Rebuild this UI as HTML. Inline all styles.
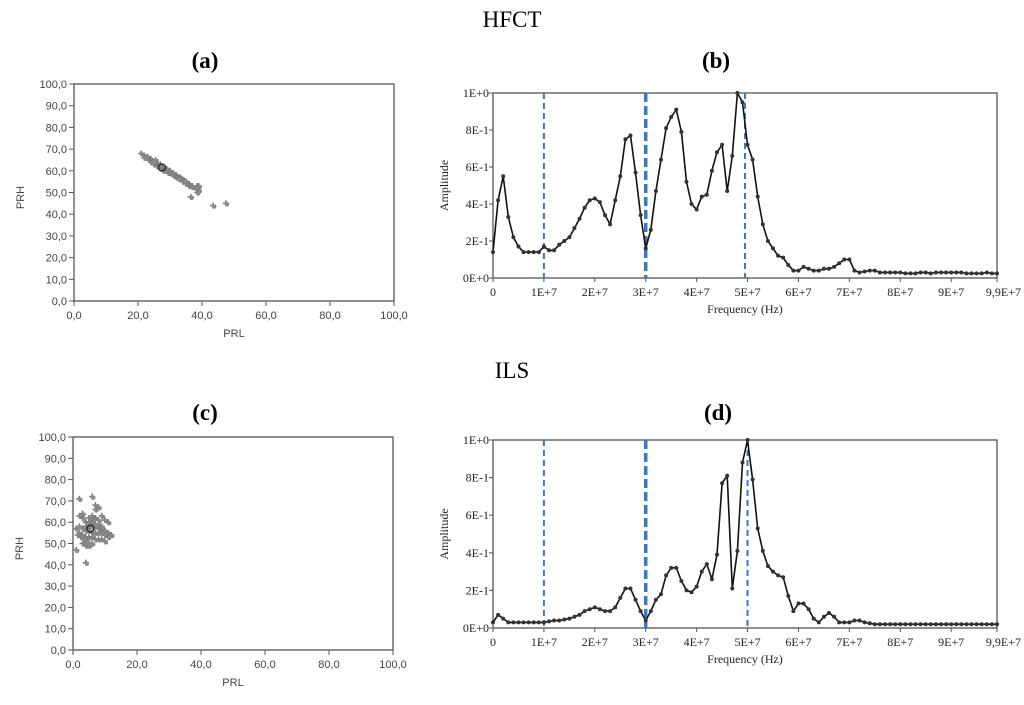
<!DOCTYPE html>
<html><head><meta charset="utf-8"><style>
body{margin:0;background:#fff;width:1024px;height:705px;overflow:hidden}
svg{display:block}
.ser{font-family:"Liberation Serif",serif}
.san{font-family:"Liberation Sans",sans-serif}
</style></head><body>
<svg id="fig" width="1024" height="705" viewBox="0 0 1024 705">
<text class="ser" x="512" y="27" font-size="23" text-anchor="middle">HFCT</text>
<text class="ser" x="512" y="378" font-size="23" text-anchor="middle">ILS</text>
<text class="ser" x="205" y="68" font-size="23" font-weight="bold" text-anchor="middle">(a)</text>
<text class="ser" x="716" y="68" font-size="23" font-weight="bold" text-anchor="middle">(b)</text>
<text class="ser" x="205" y="420" font-size="23" font-weight="bold" text-anchor="middle">(c)</text>
<text class="ser" x="718" y="420" font-size="23" font-weight="bold" text-anchor="middle">(d)</text>
</svg>
<script>
// ---- scatter data (PRL, PRH) ----
const scatterTicks = [0,10,20,30,40,50,60,70,80,90,100];
const scatterXTicks = [0,20,40,60,80,100];
const aPRL = [21,22,22.5,23,23.5,24,24,25,25,25.5,26,26,27,27,27.5,28,28,29,29,29.5,30,30,31,31,31.5,32,32,33,33,33.5,34,34,35,35,36,36,37,37,38,38.5,39,39,36.5,38.5,43.5,47.5,22,24.5,26.5,28.5,30.5,32.5,34.5];
const aPRH = [68,67,66,66.5,65,65.5,64,64,63,65,63,62,62,63,61,61,60,60,61,59,59,60,58,59,57.5,58,57,57,56,56.5,56,55,55,54,54,53,53,52.5,52,53,53,51,48,50,44,45,66,64.5,62.5,60.5,58.5,56.5,55.5];
const aCenter = [27.5,61.5];
const cPRL = [1,2,2,3,4,5,6,3,4,5,6,7,8,9,10,11,12,4,5,6,7,8,9,10,11,3,4,5,6,7,8,9,10,4,5,6,7,8,9,5,6,7,8,2,3,4,5,6,1.5,2.5,3.5,4.5,2,3,1,4,7,8,9,10,11,6,7];
const cPRH = [47,71,63,64,60,60,61,57,58,58,58,58,57,57,56,55,54,56,56,55,55,55,55,54,53,54,53,53,53,52,52,52,51,60,60,60,59,59,58,62,63,62,61,55,50,49,49,50,54,53,52,51,58,62,57,41,68,67,63,61,60,72,66];
const cCenter = [5.5,57];

// ---- spectrum data (index = frequency in MHz, 0..99) ----
const freqTickVals = [0,10,20,30,40,50,60,70,80,90,99];
const freqTickLabels = ["0","1E+7","2E+7","3E+7","4E+7","5E+7","6E+7","7E+7","8E+7","9E+7","9,9E+7"];
const ampTickVals = [0,0.2,0.4,0.6,0.8,1.0];
const ampTickLabels = ["0E+0","2E-1","4E-1","6E-1","8E-1","1E+0"];
const bAmp = [0.14,0.42,0.55,0.33,0.22,0.17,0.14,0.14,0.14,0.14,0.17,0.15,0.15,0.18,0.2,0.22,0.27,0.32,0.38,0.42,0.43,0.41,0.34,0.29,0.42,0.55,0.75,0.77,0.57,0.34,0.16,0.26,0.47,0.64,0.81,0.87,0.91,0.79,0.52,0.4,0.37,0.44,0.45,0.58,0.68,0.72,0.47,0.66,1.0,0.95,0.72,0.64,0.44,0.29,0.2,0.16,0.12,0.11,0.07,0.04,0.04,0.06,0.05,0.04,0.04,0.05,0.05,0.06,0.08,0.1,0.1,0.04,0.03,0.035,0.04,0.04,0.03,0.03,0.03,0.03,0.03,0.025,0.025,0.025,0.03,0.03,0.025,0.03,0.03,0.03,0.03,0.03,0.03,0.025,0.025,0.025,0.025,0.03,0.025,0.025];
const dAmp = [0.03,0.07,0.05,0.03,0.03,0.03,0.03,0.03,0.03,0.03,0.03,0.035,0.04,0.04,0.045,0.05,0.06,0.07,0.09,0.1,0.11,0.1,0.09,0.09,0.11,0.16,0.21,0.21,0.15,0.09,0.04,0.09,0.15,0.18,0.28,0.32,0.32,0.25,0.2,0.19,0.22,0.3,0.34,0.26,0.39,0.77,0.81,0.21,0.41,0.88,1.0,0.79,0.53,0.41,0.33,0.3,0.28,0.27,0.17,0.09,0.13,0.13,0.1,0.05,0.03,0.06,0.08,0.06,0.03,0.03,0.03,0.04,0.04,0.03,0.025,0.02,0.02,0.02,0.02,0.02,0.02,0.02,0.02,0.02,0.02,0.02,0.02,0.02,0.02,0.02,0.02,0.02,0.02,0.02,0.02,0.02,0.02,0.02,0.02,0.02];
const bMarkers = [10,30,49.5];
const dMarkers = [10,30,50];

const NS="http://www.w3.org/2000/svg";
const svg=document.getElementById('fig');
function mk(t,a,p){const e=document.createElementNS(NS,t);for(const k in a)e.setAttribute(k,a[k]);(p||svg).appendChild(e);return e;}

function scatter(pid,L,R,T,B,xs,ys,center){
  const g=mk('g',{});
  
  
  const sx=v=>L+(R-L)*v/100, sy=v=>B-(B-T)*v/100;
  const fr=mk('rect',{x:L,y:T,width:R-L,height:B-T,fill:'none',stroke:'#555','stroke-width':1.3},g);
  
  
  scatterTicks.forEach(v=>{
    mk('line',{x1:L-5,x2:L,y1:sy(v),y2:sy(v),stroke:'#555'},g);
    const t=mk('text',{x:L-7,y:sy(v)+4,'font-size':11,'text-anchor':'end',fill:'#444',class:'san'},g);
    t.textContent=v.toFixed(1).replace('.',',');
    
    
  });
  scatterXTicks.forEach(v=>{
    mk('line',{x1:sx(v),x2:sx(v),y1:B,y2:B+5,stroke:'#555'},g);
    const t=mk('text',{x:sx(v),y:B+18,'font-size':11,'text-anchor':'middle',fill:'#444',class:'san'},g);
    t.textContent=v.toFixed(1).replace('.',',');
    
    
  });
  const yl=mk('text',{x:0,y:0,'font-size':11,'text-anchor':'middle',fill:'#444',class:'san',transform:`translate(${L-50},${(T+B)/2+5}) rotate(-90)`},g);
  yl.textContent='PRH';
  
  
  const xl=mk('text',{x:(L+R)/2,y:B+36,'font-size':11,'text-anchor':'middle',fill:'#444',class:'san'},g);
  xl.textContent='PRL';
  
  
  xs.forEach((x,i)=>{
    const px=sx(x),py=sy(ys[i]);
    const p=mk('path',{d:`M${px-3},${py}H${px+3}M${px},${py-3}V${py+3}`,stroke:'#7a7a7a','stroke-width':1.6},g);
    
    
    const q=mk('circle',{cx:px+1,cy:py+1,r:2.2,fill:'#8a8a8a'},g);
  });
  const c=mk('circle',{cx:sx(center[0]),cy:sy(center[1]),r:3.5,fill:'none',stroke:'#222','stroke-width':1.3},g);
  
  
}

function spectrum(pid,L,R,T,B,amp,markers){
  const g=mk('g',{});
  
  
  const sx=v=>L+(R-L)*v/99, sy=v=>B-(B-T)*v;
  const fr=mk('rect',{x:L,y:T,width:R-L,height:B-T,fill:'none',stroke:'#555','stroke-width':1.3},g);
  
  
  ampTickVals.forEach((v,i)=>{
    mk('line',{x1:L-4,x2:L,y1:sy(v),y2:sy(v),stroke:'#555'},g);
    const t=mk('text',{x:L-4,y:sy(v)+4,'font-size':12,'text-anchor':'end',fill:'#222',class:'ser'},g);
    t.textContent=ampTickLabels[i];
    
    
  });
  freqTickVals.forEach((v,i)=>{
    mk('line',{x1:sx(v),x2:sx(v),y1:B,y2:B+4,stroke:'#555'},g);
    const t=mk('text',{x:sx(v),y:B+18,'font-size':12,'text-anchor':(i==freqTickVals.length-1?'end':'middle'),fill:'#222',class:'ser'},g);
    if(i==freqTickVals.length-1)t.setAttribute('x',sx(v)+24);
    t.textContent=freqTickLabels[i];
    
    
  });
  const yl=mk('text',{x:0,y:0,'font-size':12,'text-anchor':'middle',fill:'#222',class:'ser',transform:`translate(${L-45},${(T+B)/2}) rotate(-90)`},g);
  yl.textContent='Amplitude';
  
  
  const xl=mk('text',{x:(L+R)/2,y:B+35,'font-size':12,'text-anchor':'middle',fill:'#222',class:'ser'},g);
  xl.textContent='Frequency (Hz)';
  
  
  markers.forEach((m,i)=>{
    const l=mk('line',{x1:sx(m),x2:sx(m),y1:T,y2:B,stroke:'#3a78c9','stroke-width':i==1?3.5:2,'stroke-dasharray':i==1?'9,4':'6,4'},g);
    
    
  });
  const d=amp.map((v,i)=>(i?'L':'M')+sx(i).toFixed(1)+','+sy(v).toFixed(1)).join('');
  const pl=mk('path',{d:d,fill:'none',stroke:'#111','stroke-width':1.6},g);
  
  
  amp.forEach((v,i)=>{
    const c=mk('circle',{cx:sx(i),cy:sy(v),r:2,fill:'#333'},g);
    
    
  });
}

scatter('panel-a',74,394,84,301,aPRL,aPRH,aCenter);
scatter('panel-c',73,393,437,650,cPRL,cPRH,cCenter);
spectrum('panel-b',493,997,93,278,bAmp,bMarkers);
spectrum('panel-d',493,997,440,628,dAmp,dMarkers);
</script>
</body></html>
